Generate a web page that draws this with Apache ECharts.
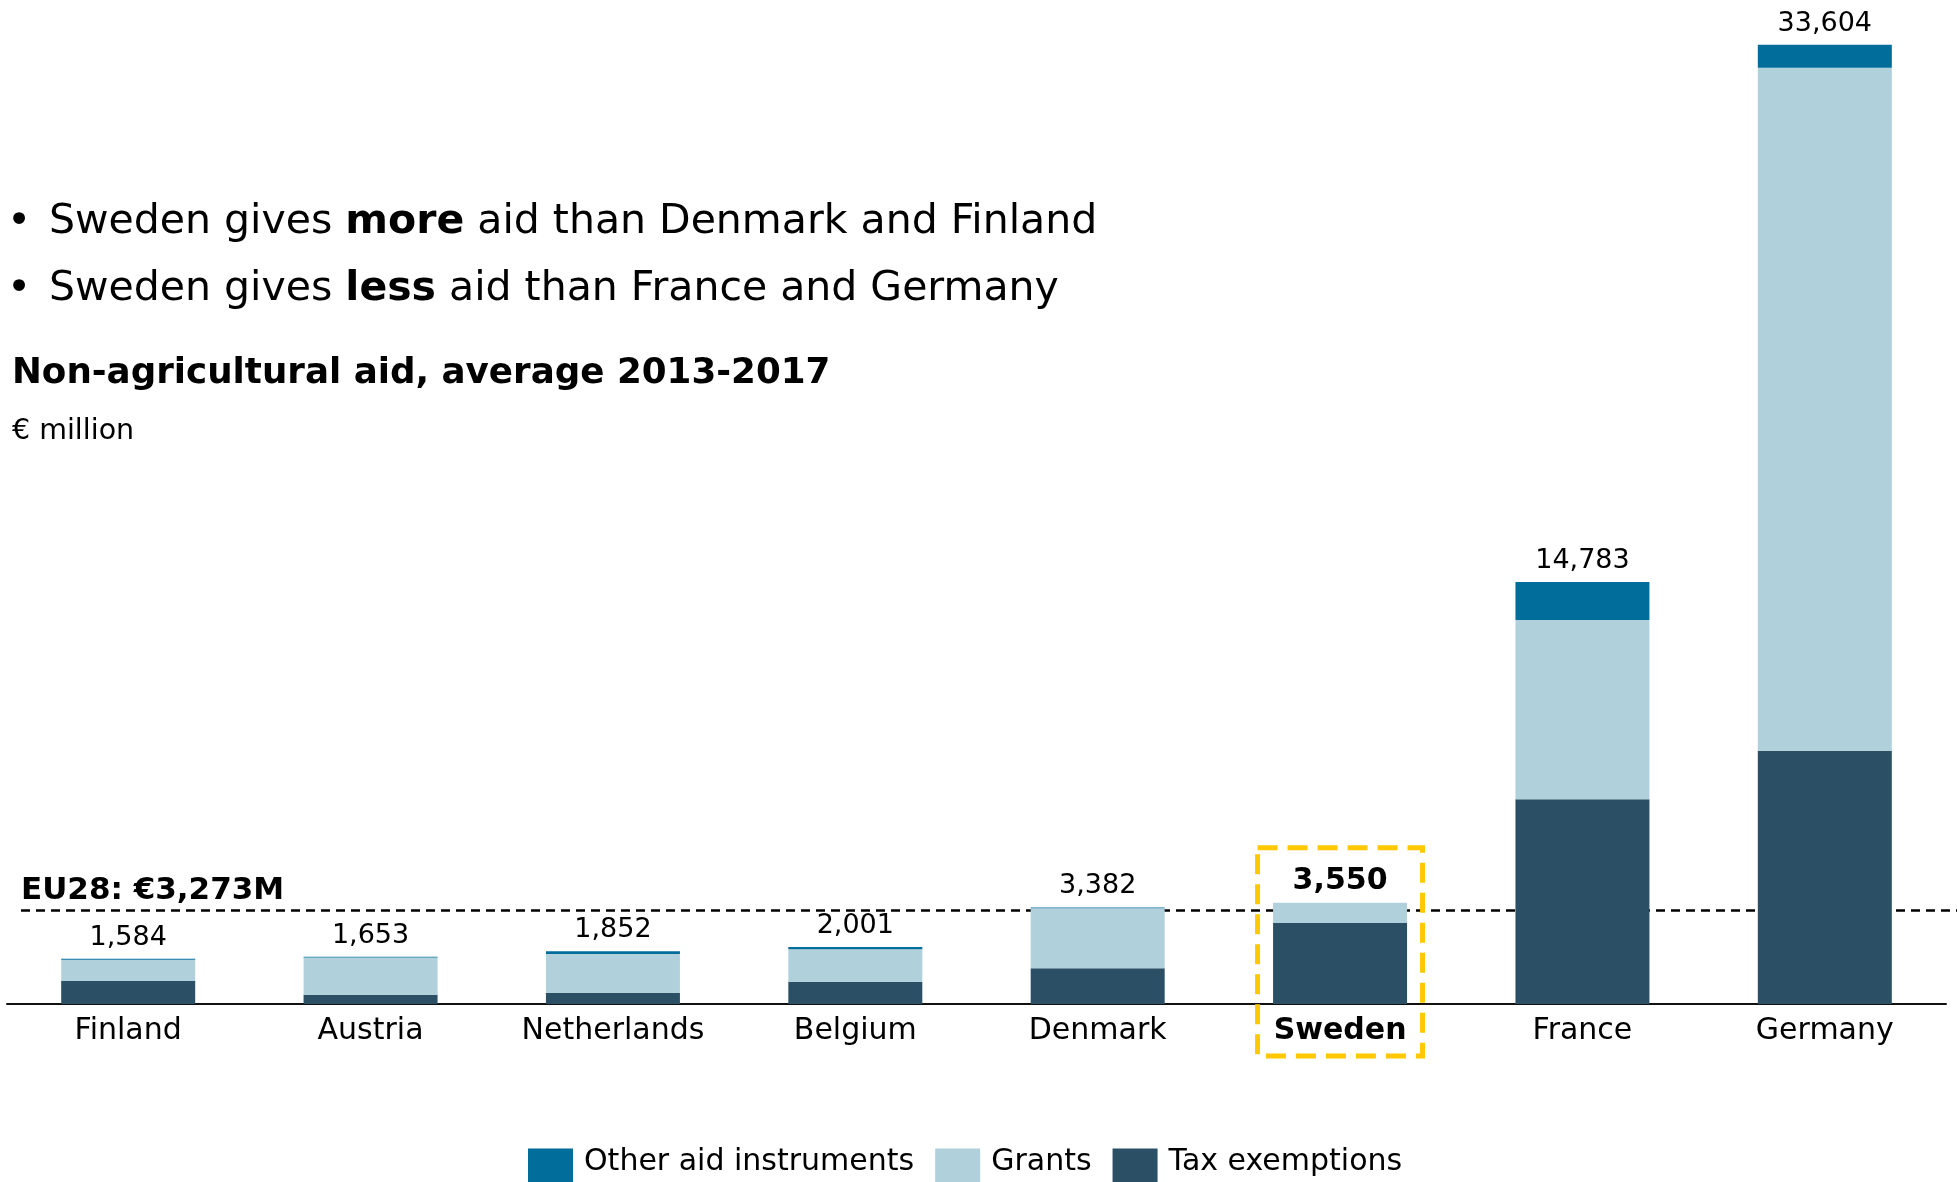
<!DOCTYPE html>
<html>
<head>
<meta charset="utf-8">
<script src="https://cdn.jsdelivr.net/npm/echarts@6/dist/echarts.min.js"></script>
<style>
  html, body { margin: 0; padding: 0; background: #ffffff; }
  #chart { width: 1957px; height: 1182px; }
</style>
</head>
<body>
<div id="chart"></div>
<script>
// Non-agricultural state aid, average 2013-2017, € million
const countries = ['Finland', 'Austria', 'Netherlands', 'Belgium', 'Denmark', 'Sweden', 'France', 'Germany'];
const taxExemptions = [806, 326, 396, 781, 1251, 2838, 7173, 8876];
const grants = [748, 1307, 1356, 1140, 2101, 712, 6278, 23922];
const otherInstruments = [30, 20, 100, 80, 30, 0, 1332, 806];
const eu28Average = 3273;
const highlighted = 'Sweden';

const bulletLines = [
  ['Sweden gives ', 'more', ' aid than Denmark and Finland'],
  ['Sweden gives ', 'less', ' aid than France and Germany']
];
const subtitle = 'Non-agricultural aid, average 2013-2017';
const unitLabel = '€ million';

const COLORS = { other: '#006d9a', grants: '#b0d1dc', tax: '#2b5066' };
const FONT = '"DejaVu Sans", "Liberation Sans", sans-serif';

const fmt = v => Math.round(v).toLocaleString('en-US');
const totalAt = i => taxExemptions[i] + grants[i] + otherInstruments[i];

const chart = echarts.init(document.getElementById('chart'), null, { renderer: 'canvas' });

const baseOption = {
  animation: false,
  backgroundColor: '#ffffff',
  grid: { left: 7, right: 11, top: 5, bottom: 178, containLabel: false },
  legend: {
    data: ['Other aid instruments', 'Grants', 'Tax exemptions'],
    left: 528,
    top: 1147,
    padding: 0,
    itemWidth: 45,
    itemHeight: 45,
    itemGap: 21,
    icon: 'rect',
    formatter: name => '{t|' + name + '}',
    textStyle: {
      fontFamily: FONT, fontSize: 30, color: '#000',
      rich: { t: { fontFamily: FONT, fontSize: 30, color: '#000', padding: [0, 0, 18, 6] } }
    }
  },
  xAxis: {
    type: 'category',
    data: countries,
    axisLine: { show: true, lineStyle: { color: '#111', width: 2 } },
    axisTick: { show: false },
    axisLabel: {
      margin: 9,
      fontFamily: FONT,
      fontSize: 30,
      lineHeight: 36,
      color: '#000',
      interval: 0,
      formatter: v => (v === highlighted ? '{s|' + v + '}' : v),
      rich: { s: { fontFamily: FONT, fontSize: 30, fontWeight: 'bold', color: '#000', lineHeight: 36 } }
    }
  },
  yAxis: {
    type: 'value',
    min: 0,
    max: 35000,
    show: false,
    splitLine: { show: false }
  },
  series: [
    {
      name: 'Tax exemptions',
      type: 'bar',
      stack: 'aid',
      barWidth: 134,
      itemStyle: { color: COLORS.tax },
      data: taxExemptions,
      markLine: {
        silent: true,
        symbol: 'none',
        z: 1,
        lineStyle: { color: '#000', width: 2.5, type: [9, 6] },
        label: {
          show: true,
          position: 'insideStartTop',
          distance: [0, 4],
          formatter: 'EU28: €' + fmt(eu28Average) + 'M',
          fontFamily: FONT,
          fontSize: 31,
          fontWeight: 'bold',
          color: '#000'
        },
        data: [[{ x: 21, yAxis: eu28Average }, { x: 1957, yAxis: eu28Average }]]
      }
    },
    {
      name: 'Grants',
      type: 'bar',
      stack: 'aid',
      barWidth: 134,
      itemStyle: { color: COLORS.grants },
      data: grants
    },
    {
      name: 'Other aid instruments',
      type: 'bar',
      stack: 'aid',
      barWidth: 134,
      itemStyle: { color: COLORS.other },
      data: otherInstruments,
      label: {
        show: true,
        position: 'top',
        distance: 5,
        formatter: p => {
          const txt = fmt(totalAt(p.dataIndex));
          return countries[p.dataIndex] === highlighted ? '{s|' + txt + '}' : '{n|' + txt + '}';
        },
        rich: {
          n: { fontFamily: FONT, fontSize: 27, color: '#000', lineHeight: 32 },
          s: { fontFamily: FONT, fontSize: 30, fontWeight: 'bold', color: '#000', lineHeight: 32 }
        }
      }
    }
  ]
};

chart.setOption(baseOption);

// Header texts
const textEls = [];
bulletLines.forEach((parts, k) => {
  const cy = 222.5 + k * 67;
  textEls.push({
    type: 'text', x: 7, y: cy,
    style: { text: '•', fontFamily: FONT, fontSize: 41, fill: '#000', verticalAlign: 'middle', align: 'left' }
  });
  textEls.push({
    type: 'text', x: 49, y: cy,
    style: {
      text: parts[0] + '{b|' + parts[1] + '}' + parts[2],
      fontFamily: FONT, fontSize: 41, fill: '#000', verticalAlign: 'middle', align: 'left',
      rich: { b: { fontFamily: FONT, fontSize: 41, fontWeight: 'bold', fill: '#000' } }
    }
  });
});
textEls.push({
  type: 'text', x: 12, y: 373.5,
  style: { text: subtitle, fontFamily: FONT, fontSize: 35.7, fontWeight: 'bold', fill: '#000', verticalAlign: 'middle', align: 'left' }
});
textEls.push({
  type: 'text', x: 12, y: 431.5,
  style: { text: unitLabel, fontFamily: FONT, fontSize: 28.5, fill: '#000', verticalAlign: 'middle', align: 'left' }
});

// Dashed highlight frame around the highlighted country's bar and label
const hi = countries.indexOf(highlighted);
const cx = chart.convertToPixel({ xAxisIndex: 0 }, highlighted);
const topY = chart.convertToPixel({ yAxisIndex: 0 }, totalAt(hi));
const baseY = chart.convertToPixel({ yAxisIndex: 0 }, 0);
const frameTop = topY - 55;
const frameBottom = baseY + 52;
textEls.push({
  type: 'rect',
  z: 100,
  shape: { x: cx - 82.5, y: frameTop, width: 165, height: frameBottom - frameTop },
  style: { fill: 'none', stroke: '#ffc800', lineWidth: 5, lineDash: [20, 10] }
});

chart.setOption({ graphic: textEls });
</script>
</body>
</html>
